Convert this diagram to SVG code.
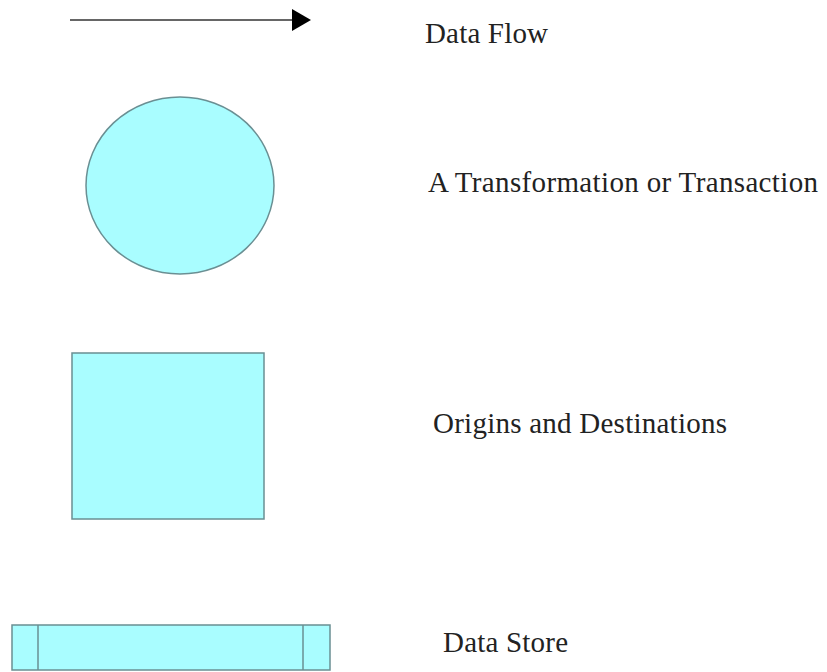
<svg xmlns="http://www.w3.org/2000/svg" width="827" height="672" viewBox="0 0 827 672">
  <style>
    .shape { fill: #a9fdff; stroke: #6a8f93; stroke-width: 1.5; }
    .label { font-family: 'Times New Roman', 'Liberation Serif', 'DejaVu Serif', serif; font-size: 29px; fill: #222; }
    .flow { stroke: #333; stroke-width: 1.5; fill: none; }
  </style>
  <defs>
    <marker id="arrowhead" markerUnits="userSpaceOnUse" markerWidth="20" markerHeight="22" refX="0" refY="11" orient="auto">
      <path d="M0,0 L19,11 L0,22 Z" fill="#000"/>
    </marker>
  </defs>
  <rect width="827" height="672" fill="#fff"/>

  <!-- legend connector: data flow -->
  <g id="connectors">
    <line class="flow" x1="70" y1="20" x2="292" y2="20" marker-end="url(#arrowhead)"/>
  </g>

  <!-- process symbol -->
  <g id="transformation">
    <ellipse class="shape" cx="180" cy="185.5" rx="94" ry="88.5"/>
  </g>

  <!-- external entity symbol -->
  <g id="origin-destination">
    <rect class="shape" x="72" y="353" width="192" height="166"/>
  </g>

  <!-- data store symbol -->
  <g id="data-store">
    <rect class="shape" x="12" y="625" width="318" height="45"/>
    <line class="shape" x1="38" y1="625" x2="38" y2="670"/>
    <line class="shape" x1="303" y1="625" x2="303" y2="670"/>
  </g>

  <g id="labels">
    <text class="label" x="425" y="43" textLength="123" lengthAdjust="spacing">Data Flow</text>
    <text class="label" x="428" y="192" textLength="390" lengthAdjust="spacing">A Transformation or Transaction</text>
    <text class="label" x="433" y="433" textLength="294" lengthAdjust="spacing">Origins and Destinations</text>
    <text class="label" x="443" y="652" textLength="125" lengthAdjust="spacing">Data Store</text>
  </g>
</svg>
